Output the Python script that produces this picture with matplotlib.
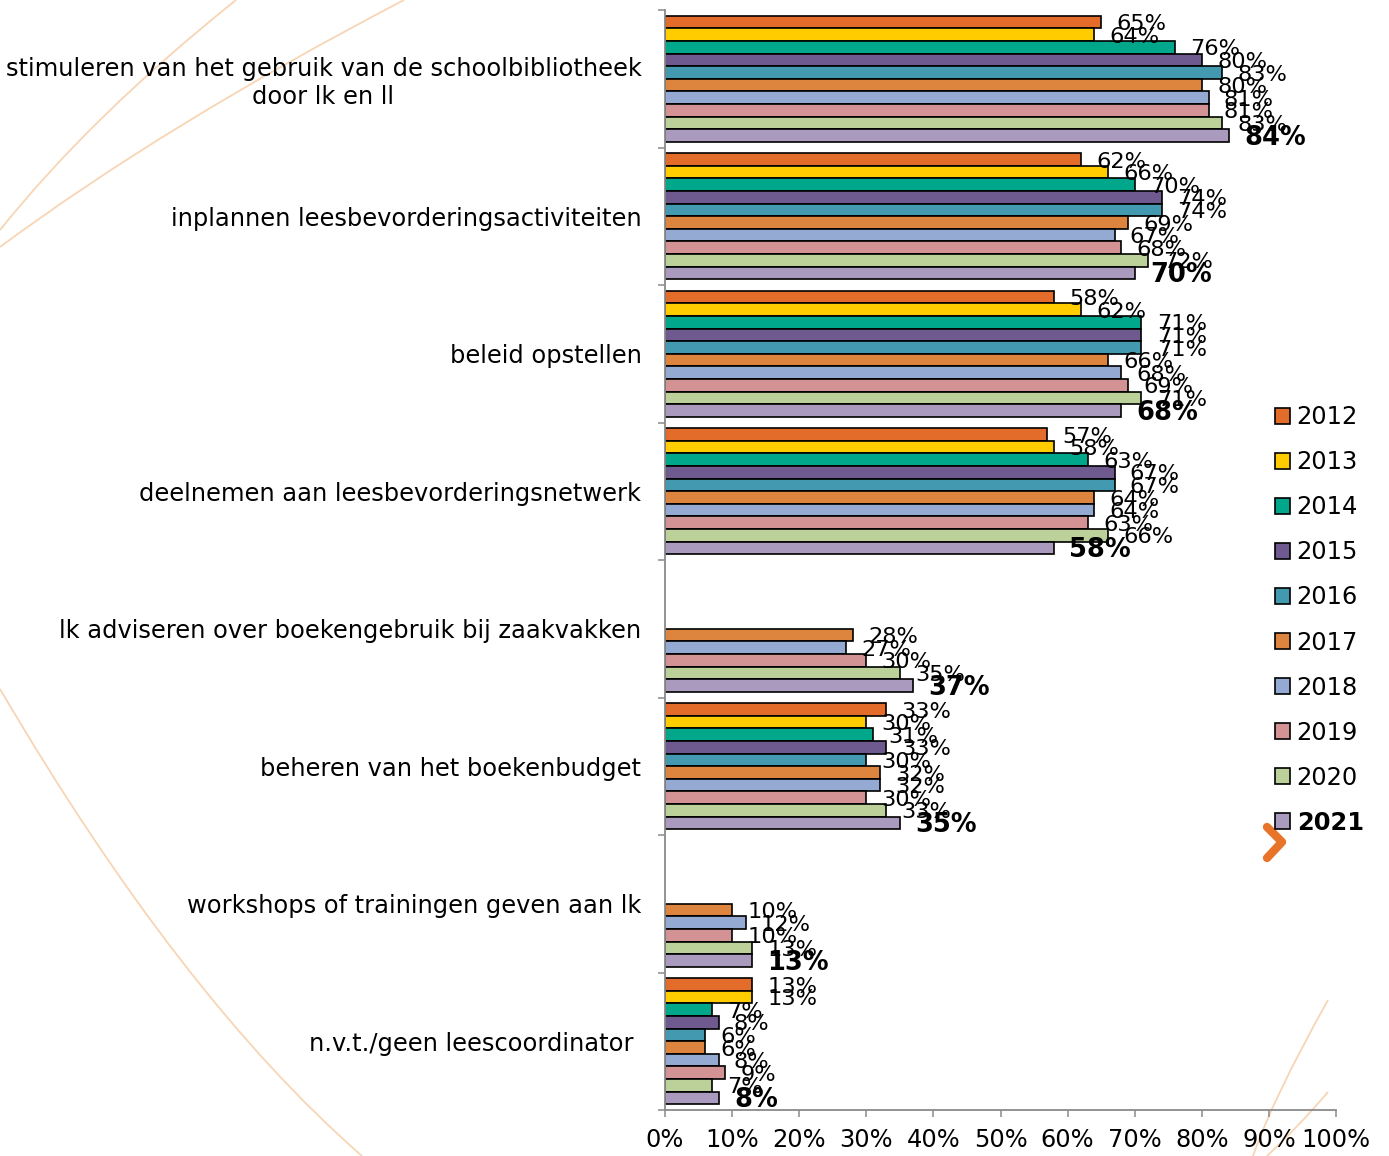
import numpy as np
import matplotlib
matplotlib.use("Agg")
import matplotlib.pyplot as plt
from matplotlib.path import Path
from matplotlib.patches import PathPatch
from matplotlib.lines import Line2D

# ---------------- data ----------------
categories = [
    "stimuleren van het gebruik van de schoolbibliotheek\ndoor lk en ll",
    "inplannen leesbevorderingsactiviteiten",
    "beleid opstellen",
    "deelnemen aan leesbevorderingsnetwerk",
    "lk adviseren over boekengebruik bij zaakvakken",
    "beheren van het boekenbudget",
    "workshops of trainingen geven aan lk",
    "n.v.t./geen leescoordinator ",
]
years = ["2012", "2013", "2014", "2015", "2016", "2017", "2018", "2019", "2020", "2021"]

v2012 = [65, 62, 58, 57, None, 33, None, 13]
v2013 = [64, 66, 62, 58, None, 30, None, 13]
v2014 = [76, 70, 71, 63, None, 31, None, 7]
v2015 = [80, 74, 71, 67, None, 33, None, 8]
v2016 = [83, 74, 71, 67, None, 30, None, 6]
v2017 = [80, 69, 66, 64, 28, 32, 10, 6]
v2018 = [81, 67, 68, 64, 27, 32, 12, 8]
v2019 = [81, 68, 69, 63, 30, 30, 10, 9]
v2020 = [83, 72, 71, 66, 35, 33, 13, 7]
v2021 = [84, 70, 68, 58, 37, 35, 13, 8]
series = [v2012, v2013, v2014, v2015, v2016, v2017, v2018, v2019, v2020, v2021]

colors = ["#E46C2A", "#FFCC00", "#00A78A", "#6F5A90", "#4399AF",
          "#DD843E", "#94AAD2", "#D39293", "#BBD199", "#A99ABE"]

xticks = [0, 10, 20, 30, 40, 50, 60, 70, 80, 90, 100]

# ---------------- figure ----------------
W, H = 1389, 1156
fig = plt.figure(figsize=(W / 100, H / 100), dpi=100)
fig.patch.set_facecolor("white")

ax = fig.add_axes([665 / W, 1 - 1110 / H, (1336 - 665) / W, (1110 - 10) / H])
ax.set_facecolor("none")

# decorative background arcs
arc_color = "#F7D5B5"
def arc(p0, p1, p2):
    pts = [(x / W, 1 - y / H) for (x, y) in (p0, p1, p2)]
    path = Path(pts, [Path.MOVETO, Path.CURVE3, Path.CURVE3])
    patch = PathPatch(path, facecolor="none", edgecolor=arc_color, lw=1.3,
                      transform=fig.transFigure, zorder=-5)
    fig.add_artist(patch)

arc((236, 0), (92, 115), (0, 230))
arc((404, 0), (166, 124), (0, 247))
arc((0, 689), (181, 998), (362, 1156))
arc((1328, 1000), (1272, 1100), (1253, 1156))
arc((1328, 1092), (1300, 1125), (1267, 1156))

# orange chevron
chev = Line2D([1267 / W, 1282 / W, 1267 / W],
              [1 - 827 / H, 1 - 842 / H, 1 - 858 / H],
              transform=fig.transFigure, color="#E8742A", lw=6,
              solid_capstyle="round", solid_joinstyle="round", zorder=5)
fig.add_artist(chev)

n_cat = len(categories)
n_ser = len(series)
group = 0.916
h = group / n_ser

handles = []
for j, (vals, col, yr) in enumerate(zip(series, colors, years)):
    ys, ws = [], []
    for i, v in enumerate(vals):
        if v is None:
            continue
        ys.append(i + (j - (n_ser - 1) / 2) * h)
        ws.append(v)
    bars = ax.barh(ys, ws, height=h, color=col, edgecolor="black",
                   linewidth=1.2, label=yr, zorder=2)
    handles.append(bars)
    bold = (j == n_ser - 1)
    for y, v in zip(ys, ws):
        ax.annotate(f"{v}%", xy=(v, y), xytext=(11, -1.5),
                    textcoords="offset points", ha="left", va="center",
                    fontsize=18.5 if bold else 16.2,
                    fontweight="bold" if bold else "normal",
                    color="black", zorder=3)

ax.set_xlim(0, 100)
ax.set_ylim(n_cat - 0.5, -0.5)

ax.set_xticks(xticks)
ax.set_xticklabels([f"{t}%" for t in xticks], fontsize=17.4)
ax.set_yticks(range(n_cat))
ax.set_yticklabels(categories, fontsize=17.4, multialignment="center")
ax.set_yticks(np.arange(-0.5, n_cat, 1.0), minor=True)

grey = "#8A8A8A"
ax.tick_params(axis="y", which="major", length=0, pad=17)
ax.tick_params(axis="y", which="minor", length=5, width=1.1, color=grey)
ax.tick_params(axis="x", which="major", length=5, width=1.1, color=grey, pad=8)

for s in ["top", "right"]:
    ax.spines[s].set_visible(False)
for s in ["left", "bottom"]:
    ax.spines[s].set_color(grey)
    ax.spines[s].set_linewidth(1.3)

leg = fig.legend(handles=handles, labels=years, loc="center left",
                 bbox_to_anchor=(1275 / W, 1 - 620 / H),
                 bbox_transform=fig.transFigure, frameon=False,
                 fontsize=17.4, handlelength=0.6, handleheight=0.6,
                 handletextpad=0.3, labelspacing=0.87, borderpad=0,
                 borderaxespad=0)
leg.get_texts()[-1].set_fontweight("bold")

fig.savefig("out.png", dpi=100, facecolor="white")
